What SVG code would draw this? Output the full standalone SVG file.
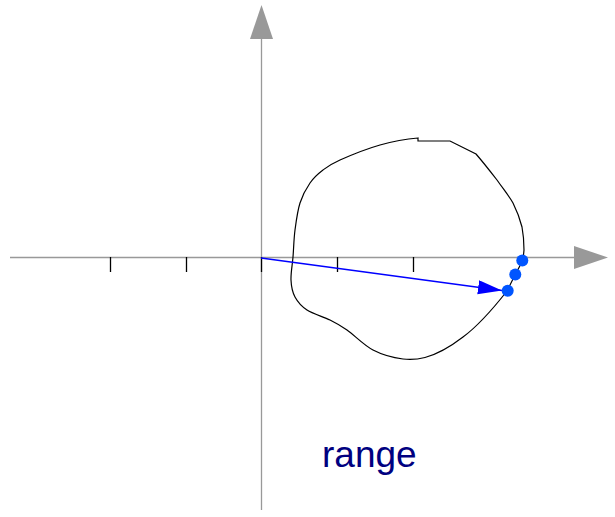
<svg xmlns="http://www.w3.org/2000/svg" width="615" height="517" viewBox="0 0 615 517">
<style>
.axis{stroke:#999;stroke-width:1.3;fill:none}
.ahead{fill:#999;stroke:none}
.tick{stroke:#000;stroke-width:1.3}
.curve{stroke:#000;stroke-width:1.2;fill:none}
.dot{fill:#0055ff}
.label{font-family:"Liberation Sans",Arial,sans-serif;font-size:37px;fill:#000080}
</style>
<defs>
<marker id="blueArrow" markerWidth="26" markerHeight="16" refX="24" refY="7" orient="auto" markerUnits="userSpaceOnUse">
<polygon points="0,0 24,7 0,14" fill="#0000ff"/>
</marker>
</defs>
<rect width="615" height="517" fill="#fff"/>
<g id="axes">
<line class="axis" x1="10" y1="257.5" x2="576" y2="257.5"/>
<polygon class="ahead" points="574,246 608,257.5 574,269"/>
<line class="axis" x1="261.5" y1="510" x2="261.5" y2="36"/>
<polygon class="ahead" points="250,39 261.5,5 273,39"/>
</g>
<g id="ticks">
<line class="tick" x1="110.5" y1="257" x2="110.5" y2="272"/>
<line class="tick" x1="186.5" y1="257" x2="186.5" y2="272"/>
<line class="tick" x1="261.5" y1="257" x2="261.5" y2="272"/>
<line class="tick" x1="337.5" y1="257" x2="337.5" y2="272"/>
<line class="tick" x1="413.5" y1="257" x2="413.5" y2="272"/>
</g>
<g id="region">
<path class="curve" d="M418,141 L450,141 L476,154 C483,162 490,171 497,180 C504,190 509,196 513,203 C517,211 520,219 522,227 C523.5,235 524,243 524,250 L523,260 L515,275 L507,291 C496,305 478,326 463,337 C450,347 438,354 425,357.5 C416,359.8 409,359.8 403,359 C393.5,357.8 382.3,354.8 373,350 C363.7,345.2 354.2,335 347,330 C339.8,325 336.7,323.3 330,320 C323.3,316.7 312.8,313.8 307,310 C301.2,306.2 297.7,302 295,297 C292.3,292 291.3,286.7 291,280 C290.7,273.3 292.3,265.3 293,257 C293.7,248.7 293.8,239 295,230 C296.2,221 297.5,210.8 300,203 C302.5,195.2 306.2,188.5 310,183 C313.8,177.5 318,173.8 323,170 C328,166.2 330.5,164.2 340,160 C349.5,155.8 367,148.7 380,145 C393,141.3 408,138.8 418,138 Z"/>
</g>
<g id="connectors">
<line x1="261" y1="258" x2="502" y2="290.5" stroke="#0000ff" stroke-width="1.3" marker-end="url(#blueArrow)"/>
</g>
<g id="points">
<circle class="dot" cx="522.3" cy="260.5" r="6"/>
<circle class="dot" cx="515.3" cy="274.5" r="6"/>
<circle class="dot" cx="507.7" cy="290.7" r="6"/>
</g>
<g id="label">
<text class="label" x="322" y="467">range</text>
</g>
</svg>
